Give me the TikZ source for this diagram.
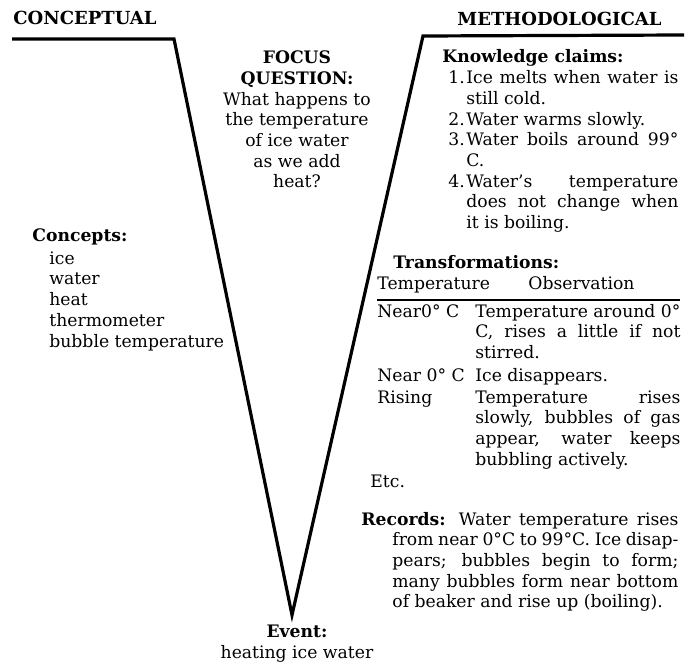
\documentclass[tikz,border=0pt]{standalone}
\usepackage{fontspec}
\setmainfont{DejaVu Serif}
\usetikzlibrary{positioning}

\newcommand{\claimitem}[2]{\par\hangindent=12pt\hangafter=1\hspace*{3pt}\makebox[9pt][l]{#1}#2}

\begin{document}
\begin{tikzpicture}[
    x=0.5pt, y=-0.5pt,
    font=\fontsize{8.6}{10.35}\selectfont,
    txt/.style={inner sep=0pt, anchor=base west},
    ctxt/.style={inner sep=0pt, anchor=base, align=center},
    para/.style={inner sep=0pt, anchor=base west, align=justify},
    headfont/.style={font=\fontsize{9}{10.35}\selectfont\bfseries},
    vee/.style={line width=1.6pt, line join=miter}
]
    \useasboundingbox (0,0) rectangle (694,662);

    % the V
    \coordinate (lend) at (12,39);
    \coordinate (lcorner) at (174,39);
    \coordinate (tip) at (292,615);
    \coordinate (rcorner) at (423,36);
    \coordinate (rend) at (684,35);
    \draw[vee] (lend) -- (lcorner) -- (tip) -- (rcorner) -- (rend);

    % headings
    \node[txt, headfont] (concep) at (13,25) {CONCEPTUAL};
    \node[txt, headfont] (method) at (457,26) {METHODOLOGICAL};

    % focus question and event (anchored on the last line)
    \node[ctxt] (focus) at (297,188) {\textbf{FOCUS}\\\textbf{QUESTION:}\\What happens to\\the temperature\\of ice water\\as we add\\heat?};
    \node[ctxt] (event) at (297,658) {\textbf{Event:}\\heating ice water};

    % left side
    \node[txt] (concepts) at (32,242) {\textbf{Concepts:}};
    \node[txt, align=left] (conlist) at (49,347) {ice\\water\\heat\\thermometer\\bubble temperature};

    % right side
    \node[para, text width=118pt] (claims) at (442,63) {%
        \textbf{Knowledge claims:}
        \claimitem{1.}{Ice melts when water is\linebreak still cold.}
        \claimitem{2.}{Water warms slowly.}
        \claimitem{3.}{Water boils around 99°\linebreak C.}
        \claimitem{4.}{Water's temperature\linebreak does not change when\linebreak it is boiling.}\par};

    \node[txt] (trans) at (393,268) {\textbf{Transformations:}};
    \node[txt] (temphead) at (377,289) {Temperature};
    \node[txt] (obshead) at (528,289) {Observation};
    \draw[line width=0.6pt] (377,300) -- (680,300);

    \node[txt] (row1) at (377,317) {Near0° C};
    \node[para, text width=102.5pt] (obs1) at (475,317) {Temperature around 0°\linebreak C, rises a little if not\linebreak stirred.};
    \node[txt] (row2) at (377,381) {Near 0° C};
    \node[txt] (obs2) at (475,381) {Ice disappears.};
    \node[txt] (row3) at (377,403) {Rising};
    \node[para, text width=102.5pt] (obs3) at (475,403) {Temperature rises\linebreak slowly, bubbles of gas\linebreak appear, water keeps\linebreak bubbling actively.};
    \node[txt] (etc) at (370,487) {Etc.};

    \node[para, text width=158.5pt] (records) at (361,525) {%
        \hangindent=15.5pt\hangafter=1
        \textbf{Records:} Water temperature rises\linebreak from near 0°C to 99°C. Ice disap-\linebreak pears; bubbles begin to form;\linebreak many bubbles form near bottom\linebreak of beaker and rise up (boiling).\par};
\end{tikzpicture}
\end{document}
